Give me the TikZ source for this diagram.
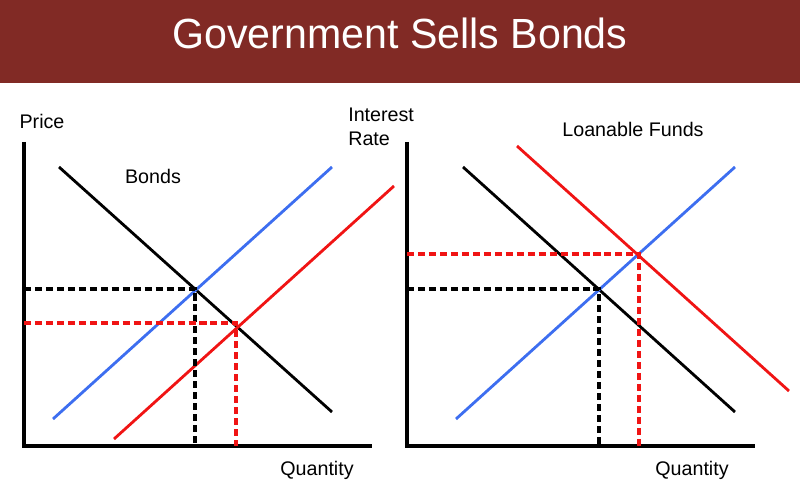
\documentclass[tikz,border=0pt]{standalone}
\usepackage{fontspec}
\setmainfont{Liberation Sans}
\usetikzlibrary{positioning}
\definecolor{banner}{HTML}{812A25}
\definecolor{supblue}{HTML}{3D6EF0}
\definecolor{shiftred}{HTML}{F01414}
\tikzset{
  vaxis/.style={line width=2.2pt,draw=black},
  vcurve/.style={line width=2pt},
  vguide/.style={line width=2.4pt,dash pattern=on 5pt off 2.8pt},
  vlabel/.style={font=\fontsize{14}{17}\selectfont,inner sep=0pt}
}

\begin{document}
\begin{tikzpicture}[x=0.025cm,y=-0.025cm]
  \useasboundingbox (0,0) rectangle (800,498);
  % title bar
  \fill[banner] (0,0) rectangle (800,83);
  \node[font=\fontsize{30}{34}\selectfont,text=white,inner sep=0pt,xscale=0.975] (title) at (400,33) {Government Sells Bonds};

  % left panel: bond market
  \coordinate (bo) at (24,446);
  \draw[vaxis] (24,142) -- (bo) -- (372,446);
  \node[vlabel] (price) at (42,121) {Price};
  \node[vlabel] (qleft) at (317,470) {Quantity};
  \node[vlabel] (bonds) at (153,176) {Bonds};
  \draw[vcurve,black] (59,167) -- (332,412);
  \draw[vcurve,supblue] (53,419) -- (332,167);
  \draw[vcurve,shiftred] (114,439) -- (394,186);
  \coordinate (eqa) at (195,289);
  \coordinate (eqb) at (236,323);
  \draw[vguide,black] (24,289) -- (eqa) -- (195,446);
  \draw[vguide,shiftred] (24,323) -- (eqb) -- (236,446);

  % right panel: loanable funds
  \coordinate (lo) at (407,446);
  \draw[vaxis] (407,142) -- (lo) -- (755,446);
  \node[vlabel,align=left,anchor=west] (rate) at (348,127) {Interest\\Rate};
  \node[vlabel] (funds) at (633,129) {Loanable Funds};
  \node[vlabel] (qright) at (692,470) {Quantity};
  \draw[vcurve,black] (463,167) -- (735,412);
  \draw[vcurve,supblue] (456,419) -- (735,167);
  \draw[vcurve,shiftred] (517,146) -- (789,391);
  \coordinate (eqc) at (599,289);
  \coordinate (eqd) at (639,254);
  \draw[vguide,black] (407,289) -- (eqc) -- (599,446);
  \draw[vguide,shiftred] (407,254) -- (eqd) -- (639,446);
\end{tikzpicture}
\end{document}
